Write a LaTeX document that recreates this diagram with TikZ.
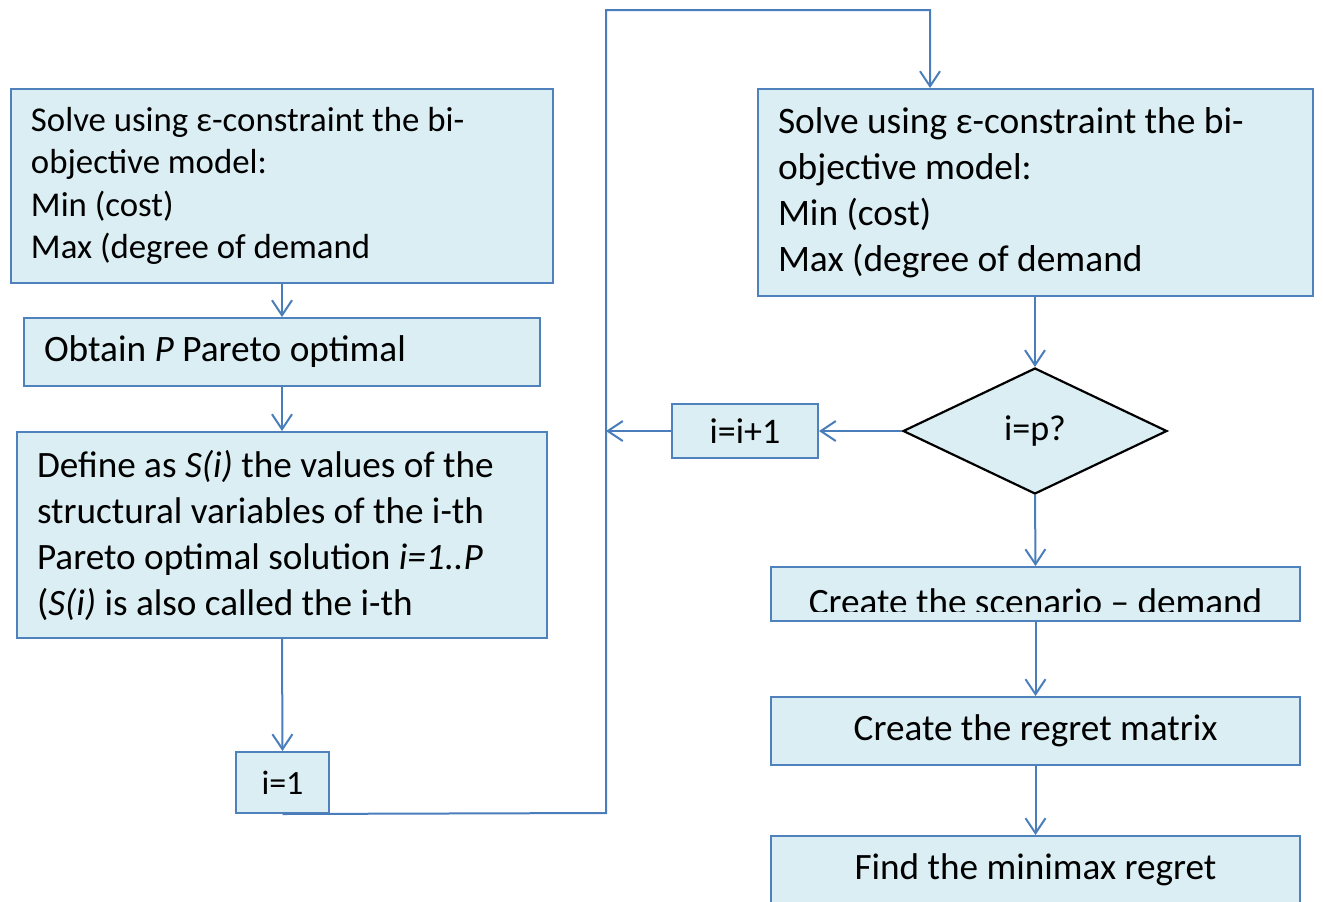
\documentclass[tikz,border=0pt]{standalone}
\usepackage{fontspec}
\setmainfont{Carlito}
\usetikzlibrary{arrows.meta,shapes.geometric}
\definecolor{boxfill}{HTML}{DAEEF3}
\definecolor{bord}{HTML}{4F81BD}
\definecolor{linec}{HTML}{4A7EBB}
\begin{document}
\begin{tikzpicture}[x=0.5pt,y=-0.5pt,
  box/.style={draw=bord, fill=boxfill, line width=1pt, rectangle, inner sep=0pt},
  lbox/.style={box, inner xsep=10pt, align=flush left},
  arr/.style={draw=linec, line width=1pt, -{Straight Barb[length=7.5pt,width=10pt]}},
  conn/.style={draw=linec, line width=1pt}]
\useasboundingbox (0,0) rectangle (1323,901);
\clip (0,0) rectangle (1323,901);
% left column
\node[lbox, text width=251pt, minimum height=97pt, font=\fontsize{17.4}{21.2}\selectfont] (A) at (282,186)
  {Solve using ε-constraint the bi-\\objective model:\\Min (cost)\\Max (degree of demand};
\node[lbox, text width=238pt, minimum height=34pt, font=\fontsize{18.65}{23}\selectfont] (B) at (282,352)
  {Obtain \textit{P} Pareto optimal};
\node[lbox, text width=245pt, minimum height=103pt, font=\fontsize{18.6}{23}\selectfont] (C) at (282,535)
  {Define as \textit{S(i)} the values of the\\structural variables of the i-th\\Pareto optimal solution \textit{i=1..P}\\(\textit{S(i)} is also called the i-th};
\node[box, minimum width=46.5pt, minimum height=30.5pt, font=\fontsize{17}{21}\selectfont] (D) at (282.5,782.5) {i=1};
% right column
\node[lbox, text width=257.5pt, minimum height=103.5pt, font=\fontsize{18.7}{23}\selectfont] (E) at (1035.5,192.5)
  {Solve using ε-constraint the bi-\\objective model:\\Min (cost)\\Max (degree of demand};
\node[draw=black, fill=boxfill, line width=1.1pt, diamond, inner sep=0pt, aspect=2.1,
  minimum width=132pt, minimum height=63pt, font=\fontsize{18}{22}\selectfont] (F) at (1035,431) {i=p?};
\node[box, minimum width=73pt, minimum height=27pt, font=\fontsize{18}{22}\selectfont] (G) at (745,431) {i=i+1};
\node[box, minimum width=264.5pt, minimum height=27pt] (H) at (1035.5,594) {};
\begin{scope}
  \clip (771,567) rectangle (1300,611);
  \node[anchor=base, inner sep=0pt, font=\fontsize{18.6}{22}\selectfont] (Ht) at (1035.5,614) {Create the scenario – demand};
\end{scope}
\node[box, minimum width=264.5pt, minimum height=34pt, font=\fontsize{18.6}{22}\selectfont] (I) at (1035.5,731) {Create the regret matrix};
\node[box, minimum width=264.5pt, minimum height=34pt, font=\fontsize{18.6}{22}\selectfont] (J) at (1035.5,870) {Find the minimax regret};
% connectors
\coordinate (loopB) at (606,813);
\coordinate (loopT) at (606,10);
\coordinate (loopE) at (930,10);
\draw[arr] (A.south) -- (B.north);
\draw[arr] (B.south) -- (C.north);
\draw[arr] (C.south) -- (D.north);
\draw[arr] (D.south) -- (loopB) -- (loopT) -- (loopE) -- (loopE |- E.north);
\draw[arr] (E.south -| F.north) -- (F.north);
\draw[arr] (F.west) -- (G.east);
\draw[arr] (G.west) -- (G.west -| loopB);
\draw[arr] (F.south) -- (H.north);
\draw[arr] (H.south) -- (I.north);
\draw[arr] (I.south) -- (J.north);
\end{tikzpicture}
\end{document}
